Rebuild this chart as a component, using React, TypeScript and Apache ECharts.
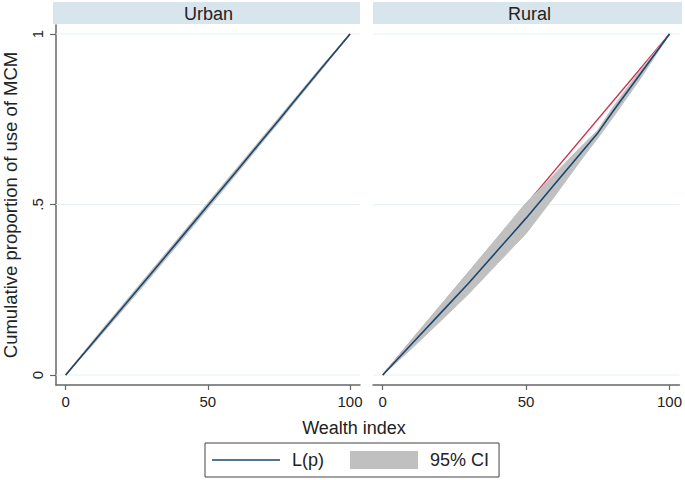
import React, { useEffect, useRef } from "react";
import * as echarts from "echarts";

const panelNames = ["Urban", "Rural"];
const xTicks = [0, 50, 100];
const yTicks = [0, 0.5, 1];
const pValues = [0, 10, 20, 30, 40, 50, 60, 70, 75, 80, 90, 100];

const urbanL = [0, 0.099, 0.198, 0.297, 0.397, 0.497, 0.597, 0.698, 0.748, 0.799, 0.9, 1];
const urbanLo = [0, 0.093, 0.19, 0.288, 0.388, 0.488, 0.589, 0.691, 0.741, 0.793, 0.895, 1];
const urbanHi = [0, 0.105, 0.205, 0.305, 0.405, 0.505, 0.605, 0.705, 0.755, 0.805, 0.905, 1];

const ruralL = [0, 0.09, 0.18, 0.27, 0.365, 0.46, 0.56, 0.66, 0.71, 0.77, 0.885, 1];
const ruralLo = [0, 0.077, 0.157, 0.238, 0.327, 0.415, 0.525, 0.64, 0.695, 0.752, 0.871, 1];
const ruralHi = [0, 0.103, 0.203, 0.303, 0.404, 0.505, 0.59, 0.677, 0.718, 0.782, 0.896, 1];

const equalityLine = [
  [0, 0],
  [100, 1],
];

const X_MIN = -3.4;
const X_MAX = 103.5;
const Y_MIN = -0.0293;
const Y_MAX = 1.0264;

const LINE_COLOR = "#1a476f";
const RED = "#d42a4a";
const CI_GRAY = "#c0c0c0";
const GRID_COLOR = "#e6f0f3";
const AXIS_COLOR = "#666666";
const HEADER_BG = "#d9e5ec";
const FONT = "'Liberation Sans', Arial, sans-serif";

const panelData = [
  { L: urbanL, lo: urbanLo, hi: urbanHi },
  { L: ruralL, lo: ruralLo, hi: ruralHi },
];

const gridBoxes = [
  { left: 53, top: 25, width: 307, height: 360 },
  { left: 373, top: 25, width: 309, height: 360 },
];

export default function App() {
  const ref = useRef<HTMLDivElement>(null);

  useEffect(() => {
    const chart = echarts.init(ref.current!, null, { renderer: "svg" });

    const series: any[] = [];
    panelData.forEach((d, i) => {
      yTicks.forEach((t) => {
        series.push({
          type: "line",
          name: "grid" + i + "_" + t,
          xAxisIndex: i,
          yAxisIndex: i,
          data: [
            [X_MIN, t],
            [X_MAX, t],
          ],
          symbol: "none",
          silent: true,
          z: 1,
          lineStyle: { color: GRID_COLOR, width: 1.2 },
        });
      });
      series.push({
        type: "line",
        name: "Equality",
        xAxisIndex: i,
        yAxisIndex: i,
        data: equalityLine,
        symbol: "none",
        silent: true,
        z: 2,
        lineStyle: { color: RED, width: 1.3 },
      });
      const bandData = pValues.map((p, k) => [p, d.lo[k], d.hi[k]]);
      series.push({
        type: "custom",
        name: "95% CI",
        xAxisIndex: i,
        yAxisIndex: i,
        data: bandData,
        silent: true,
        z: 3,
        itemStyle: { color: CI_GRAY },
        encode: { x: 0, y: [1, 2] },
        renderItem: (params: any, api: any) => {
          if (params.dataIndex !== 0) return null;
          const upper = bandData.map((r) => api.coord([r[0], r[2]]));
          const lower = bandData.map((r) => api.coord([r[0], r[1]])).reverse();
          return {
            type: "polygon",
            shape: { points: upper.concat(lower) },
            style: { fill: CI_GRAY, stroke: CI_GRAY, lineWidth: 1 },
          };
        },
      });
      series.push({
        type: "line",
        name: "L(p)",
        xAxisIndex: i,
        yAxisIndex: i,
        data: pValues.map((p, k) => [p, d.L[k]]),
        symbol: "none",
        silent: true,
        z: 4,
        itemStyle: { color: LINE_COLOR },
        lineStyle: { color: LINE_COLOR, width: 1.6 },
      });
    });

    const xAxes = gridBoxes.map((_, i) => ({
      type: "value",
      gridIndex: i,
      min: X_MIN,
      max: X_MAX,
      axisLine: { show: true, onZero: false, lineStyle: { color: AXIS_COLOR, width: 1.5 } },
      axisTick: {
        show: true,
        customValues: xTicks,
        length: 5,
        lineStyle: { color: AXIS_COLOR, width: 1.2 },
      },
      axisLabel: {
        show: true,
        customValues: xTicks,
        fontSize: 15,
        color: "#222",
        margin: 9,
        fontFamily: FONT,
      },
      splitLine: { show: false },
    }));

    const yAxes = gridBoxes.map((_, i) => ({
      type: "value",
      gridIndex: i,
      min: Y_MIN,
      max: Y_MAX,
      name: i === 0 ? "Cumulative proportion of use of MCM" : "",
      nameLocation: "middle",
      nameGap: 36,
      nameTextStyle: { fontSize: 18.5, color: "#222", fontFamily: FONT },
      axisLine: { show: i === 0, onZero: false, lineStyle: { color: AXIS_COLOR, width: 1.5 } },
      axisTick: {
        show: i === 0,
        customValues: yTicks,
        length: 6,
        lineStyle: { color: AXIS_COLOR, width: 1.2 },
      },
      axisLabel: {
        show: i === 0,
        customValues: yTicks,
        rotate: 90,
        fontSize: 15,
        color: "#222",
        margin: 11,
        fontFamily: FONT,
        formatter: (v: number) => (v === 0.5 ? ".5" : String(v)),
      },
      splitLine: { show: false },
    }));

    const graphic: any[] = [];
    gridBoxes.forEach((g, i) => {
      graphic.push({
        type: "rect",
        shape: { x: g.left, y: 2, width: g.width, height: 22 },
        style: { fill: HEADER_BG },
        silent: true,
      });
      graphic.push({
        type: "text",
        x: g.left + g.width / 2 + 2,
        y: 13.5,
        style: {
          text: panelNames[i],
          fill: "#222",
          font: `18px ${FONT}`,
          textAlign: "center",
          textVerticalAlign: "middle",
        },
        silent: true,
      });
    });
    graphic.push({
      type: "text",
      x: 354,
      y: 428,
      style: {
        text: "Wealth index",
        fill: "#222",
        font: `18px ${FONT}`,
        textAlign: "center",
        textVerticalAlign: "middle",
      },
      silent: true,
    });

    const option: any = {
      animation: false,
      backgroundColor: "#ffffff",
      textStyle: { fontFamily: FONT },
      grid: gridBoxes.map((g) => ({ ...g, containLabel: false })),
      xAxis: xAxes,
      yAxis: yAxes,
      legend: {
        left: 205,
        top: 443,
        orient: "horizontal",
        padding: [8, 10, 8, 7],
        itemWidth: 68,
        itemHeight: 18,
        itemGap: 26,
        borderColor: "#444",
        borderWidth: 1,
        selectedMode: false,
        symbolKeepAspect: true,
        textStyle: { fontSize: 18, color: "#222", fontFamily: FONT, padding: [0, 0, 0, 7] },
        data: [
          {
            name: "L(p)",
            icon: "path://M0,0h68v1.6h-68z",
            itemStyle: { color: LINE_COLOR },
          },
          { name: "95% CI", icon: "rect", itemStyle: { color: CI_GRAY } },
        ],
      },
      graphic,
      series,
    };

    chart.setOption(option);
    return () => chart.dispose();
  }, []);

  return (
    <div
      ref={ref}
      style={{ position: "fixed", left: 0, top: 0, width: 685, height: 480 }}
    />
  );
}
